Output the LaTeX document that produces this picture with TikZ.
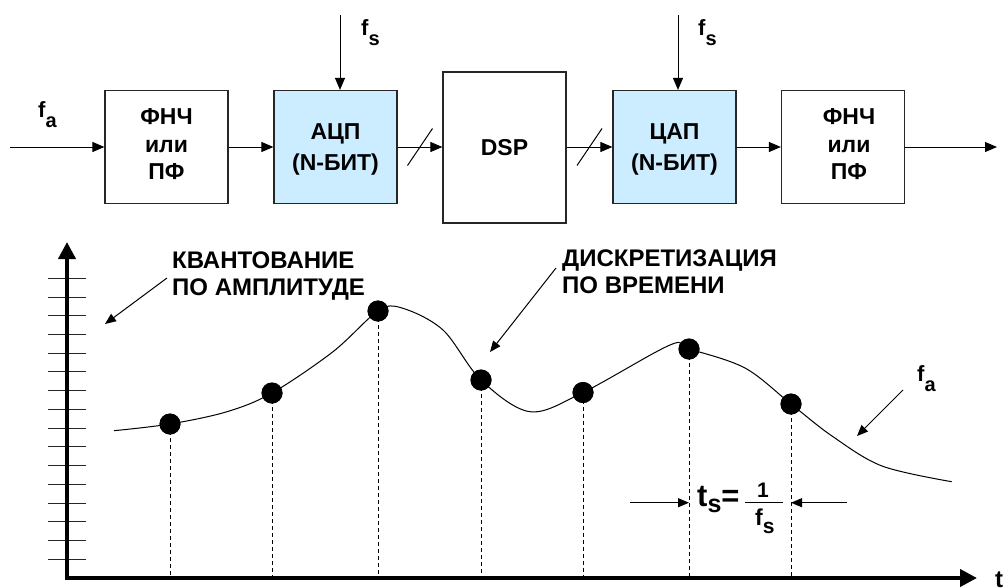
\documentclass[tikz,border=0pt]{standalone}
\usepackage{fontspec}
\setmainfont{Liberation Sans}
\usetikzlibrary{arrows.meta,calc}
\definecolor{convfill}{HTML}{CCECFF}
% letter with a lowered index of nearly the same size
\newcommand{\fsym}[1]{f\raisebox{-10pt}{\fontsize{20}{20}\selectfont #1}}
\begin{document}
\begin{tikzpicture}[x=1pt,y=-1pt,
  block/.style={draw=black!85,line width=1.2pt,minimum width=123pt,minimum height=113pt,
     align=center,inner sep=0pt,text depth=5pt,font=\bfseries\fontsize{23}{27.5}\selectfont},
  conv/.style={block,fill=convfill,text depth=0pt,font=\bfseries\fontsize{23}{30.5}\selectfont},
  lbl/.style={inner sep=0pt,font=\bfseries\fontsize{24}{26.7}\selectfont},
  idx/.style={lbl,anchor=base west,font=\bfseries\fontsize{22}{22}\selectfont},
  sig/.style={line width=1pt,-{Triangle[length=12pt,width=10pt]}},
  axis/.style={line width=4pt,-{Triangle[length=17pt,width=17pt]}},
  tick/.style={line width=1pt,black!85},
  samp/.style={circle,fill=black,minimum size=21pt,inner sep=0pt},
  drop/.style={line width=1pt,dash pattern=on 4pt off 3pt},
  lead/.style={line width=1pt,-{Triangle[length=11pt,width=9pt]}}]
\useasboundingbox (0,0) rectangle (1006,587);

% ---------------- signal chain ----------------
\node[block] (lpf1) at (166.5,147) {ФНЧ\\или\\ПФ};
\node[conv]  (adc)  at (335.5,147) {АЦП\\(N-БИТ)};
\node[block,minimum height=151pt,text depth=0pt] (dsp) at (504.5,147.5) {DSP};
\node[conv]  (dac)  at (674.5,147) {ЦАП\\(N-БИТ)};
\node[block] (lpf2) at (843,147) {\hspace*{12pt}ФНЧ\\\hspace*{12pt}или\\\hspace*{12pt}ПФ};

\coordinate (in)  at (10,147);
\coordinate (out) at (997,147);
\coordinate (clk1) at (340,15);
\coordinate (clk2) at (678,15);

\draw[sig] (in) -- (lpf1.west);
\draw[sig] (lpf1.east) -- (adc.west);
\draw[sig] (adc.east) -- (dsp.west |- adc.east);
\draw[sig] (dsp.east |- dac.west) -- (dac.west);
\draw[sig] (dac.east) -- (lpf2.west);
\draw[sig] (lpf2.east) -- (out);
\draw[sig] (clk1) -- (clk1 |- adc.north);
\draw[sig] (clk2) -- (clk2 |- dac.north);

% bus slashes on the digital links
\draw[line width=1pt] ($(adc.east)!0.5!(dsp.west |- adc.east)$) +(-12.5,18.5) -- +(12.5,-18.5);
\draw[line width=1pt] ($(dsp.east |- dac.west)!0.5!(dac.west)$) +(-12.5,18.5) -- +(12.5,-18.5);

\node[idx] (fain) at (38,117) {\fsym{a}};
\node[idx] (fs1) at (361,35) {\fsym{s}};
\node[idx] (fs2) at (698,35) {\fsym{s}};

% ---------------- sampling graph ----------------
\coordinate (o) at (67,578);
\coordinate (ytip) at (67,242);
\coordinate (xtip) at (977,578);

% quantisation levels
\foreach \k in {0,...,15}
  \draw[tick] (48,278.3+18.73*\k) -- (86,278.3+18.73*\k);

% sample points
\node[samp] (d1) at (170,424) {};
\node[samp] (d2) at (272,393) {};
\node[samp] (d3) at (378,311) {};
\node[samp] (d4) at (481,380) {};
\node[samp] (d5) at (583,392.5) {};
\node[samp] (d6) at (689,349) {};
\node[samp] (d7) at (791,404) {};

\foreach \d in {d1,d2,d3,d4,d5,d6,d7}
  \draw[drop] (\d.center) -- (\d.center |- o);

% analog signal
\coordinate (c0) at (114,430.7);
\coordinate (c1) at (227,411.7);
\coordinate (c2) at (333,351.7);
\coordinate (c3) at (402,308);
\coordinate (c4) at (443,330);
\coordinate (c5) at (530,411.7);
\coordinate (c6) at (670,345);
\coordinate (c7) at (745,368);
\coordinate (c8) at (832,436);
\coordinate (c9) at (882,466);
\coordinate (c10) at (951.7,481.7);
\draw[line width=1pt] plot[smooth,tension=0.55] coordinates
  {(c0) (d1) (c1) (d2) (c2) (d3) (c3) (c4) (d4) (c5) (d5) (c6) (d6) (c7) (d7) (c8) (c9) (c10)};
\foreach \d in {d1,d2,d3,d4,d5,d6,d7}
  \node[samp] at (\d) {};

\draw[axis] (o) -- (ytip);
\draw[axis] ($(o)+(-2,0)$) -- (xtip);
\node[lbl,anchor=west,font=\bfseries\fontsize{24}{24}\selectfont] (tlab) at (995,580) {t};

% annotations
\node[lbl,anchor=base west,align=left] (qlab) at (172,295.3) {КВАНТОВАНИЕ\\ПО АМПЛИТУДЕ};
\coordinate (q0) at (167,278);
\coordinate (q1) at (105,324);
\draw[lead] (q0) -- (q1);

\node[lbl,anchor=base west,align=left] (slab) at (562,293.6) {ДИСКРЕТИЗАЦИЯ\\ПО ВРЕМЕНИ};
\coordinate (s0) at (556,268);
\coordinate (s1) at (490,352);
\draw[lead] (s0) -- (s1);

\node[idx] (faout) at (917,381) {\fsym{a}};
\coordinate (a0) at (903,390);
\coordinate (a1) at (857,436);
\draw[lead] (a0) -- (a1);

% sampling period
\coordinate (p0) at (630,502.7);
\coordinate (p1) at (846.7,502.7);
\draw[lead] (p0) -- (d6 |- p0);
\draw[lead] (p1) -- (d7 |- p1);
\node[lbl,anchor=base west,font=\bfseries\fontsize{31}{31}\selectfont] (ts) at (697,506)
  {t\raisebox{-6pt}{\fontsize{25}{25}\selectfont s}=};
\node[lbl,anchor=base,font=\bfseries\fontsize{21}{21}\selectfont] (num) at (763,497) {1};
\node[lbl,anchor=base west,font=\bfseries\fontsize{23}{23}\selectfont] (den) at (755,525)
  {f\raisebox{-8pt}{\fontsize{21}{21}\selectfont s}};
\draw[line width=1pt] (745,502.7) -- (783,502.7);
\end{tikzpicture}
\end{document}
